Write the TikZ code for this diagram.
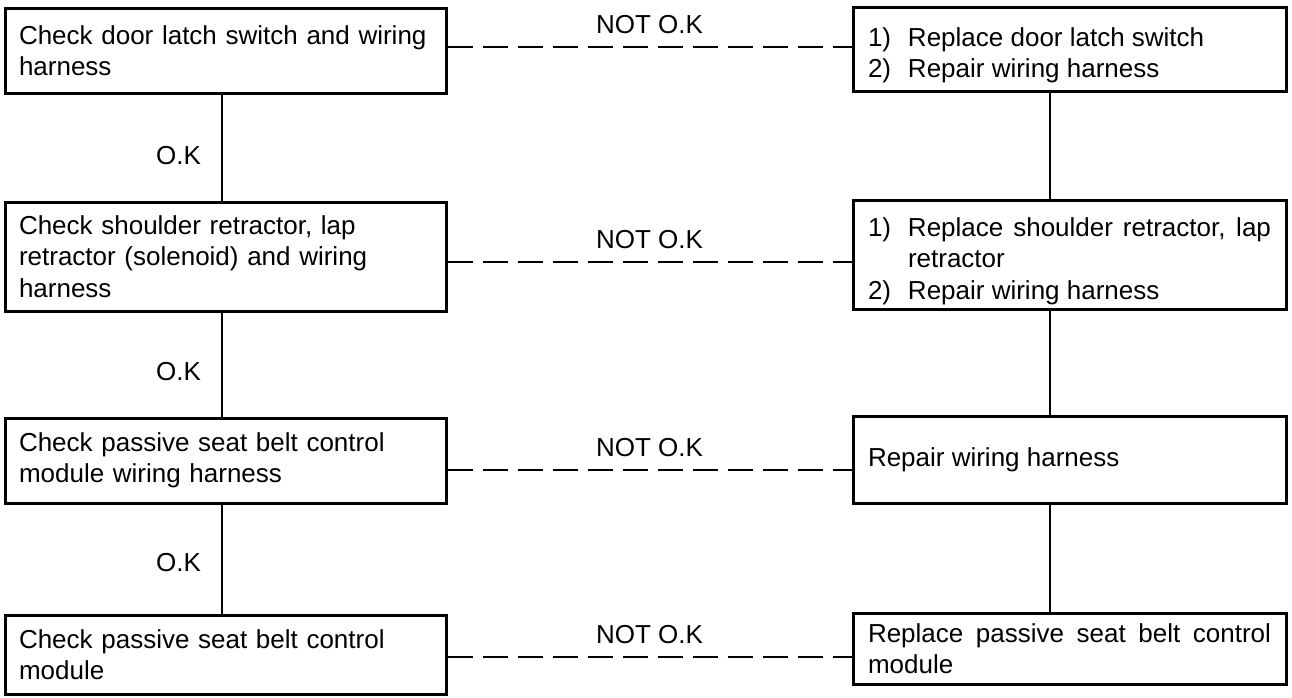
\documentclass[tikz,border=0pt]{standalone}
\usepackage{fontspec}
\setmainfont{Liberation Sans}
\usepackage{tikz}
\usetikzlibrary{positioning}
\newcommand{\boxfont}{\fontsize{13}{15.75}\selectfont\parindent=0pt\hyphenpenalty=10000\exhyphenpenalty=10000}
\newcommand{\fixitem}[2]{\par\hangindent=20pt\hangafter=1\noindent\makebox[20pt][l]{#1)}#2\par}

\begin{document}
\begin{tikzpicture}[x=0.5pt,y=-0.5pt,font=\boxfont,
    checkbox/.style={draw,line width=1.5pt,text width=206.5pt,inner xsep=7pt,inner ysep=0pt,align=left},
    fixbox/.style={draw,line width=1.5pt,text width=201.5pt,inner xsep=7.5pt,inner ysep=0pt,align=justify},
    okline/.style={line width=1pt},
    notok/.style={line width=1.2pt,dash pattern=on 12.5pt off 5pt},
    lbl/.style={inner sep=0pt}]
  \useasboundingbox (0,0) rectangle (1292,697);

  \node[checkbox,minimum height=42.5pt] (chk1) at (225.5,50.5)
    {Check door latch switch and wiring harness};
  \node[checkbox,minimum height=54.5pt] (chk2) at (225.5,256.5)
    {Check shoulder retractor, lap retractor (solenoid) and wiring harness};
  \node[checkbox,minimum height=42.5pt] (chk3) at (225.5,460.5)
    {Check passive seat belt control module wiring harness};
  \node[checkbox,minimum height=39.5pt] (chk4) at (225.5,654.5)
    {Check passive seat belt control module};

  \node[fixbox,minimum height=42pt] (fix1) at (1069.5,49)
    {\fixitem{1}{Replace door latch switch}\fixitem{2}{Repair wiring harness}};
  \node[fixbox,minimum height=54.5pt] (fix2) at (1069.5,254.5)
    {\fixitem{1}{Replace shoulder retractor, lap retractor}\fixitem{2}{Repair wiring harness}};
  \node[fixbox,minimum height=43.5pt] (fix3) at (1069.5,459.5)
    {Repair wiring harness};
  \node[fixbox,minimum height=35.5pt] (fix4) at (1069.5,648.5)
    {Replace passive seat belt control module};

  \draw[okline] ([xshift=-1.75pt]chk1.south) -- ([xshift=-1.75pt]chk2.north)
    node[lbl,pos=0.58,left=10pt] {O.K};
  \draw[okline] ([xshift=-1.75pt]chk2.south) -- ([xshift=-1.75pt]chk3.north)
    node[lbl,pos=0.57,left=10pt] {O.K};
  \draw[okline] ([xshift=-1.75pt]chk3.south) -- ([xshift=-1.75pt]chk4.north)
    node[lbl,pos=0.53,left=10pt] {O.K};

  \draw[okline] ([xshift=-9.75pt]fix1.south) -- ([xshift=-9.75pt]fix2.north);
  \draw[okline] ([xshift=-9.75pt]fix2.south) -- ([xshift=-9.75pt]fix3.north);
  \draw[okline] ([xshift=-9.75pt]fix3.south) -- ([xshift=-9.75pt]fix4.north);

  \draw[notok] ([yshift=1.75pt]chk1.east) coordinate (n1) -- (n1 -| fix1.west)
    node[lbl,midway,above=6.25pt] {NOT O.K};
  \draw[notok] ([yshift=-2.75pt]chk2.east) coordinate (n2) -- (n2 -| fix2.west)
    node[lbl,midway,above=6.25pt] {NOT O.K};
  \draw[notok] ([yshift=-4.75pt]chk3.east) coordinate (n3) -- (n3 -| fix3.west)
    node[lbl,midway,above=6.25pt] {NOT O.K};
  \draw[notok] ([yshift=-1.25pt]chk4.east) coordinate (n4) -- (n4 -| fix4.west)
    node[lbl,midway,above=6.25pt] {NOT O.K};
\end{tikzpicture}
\end{document}
